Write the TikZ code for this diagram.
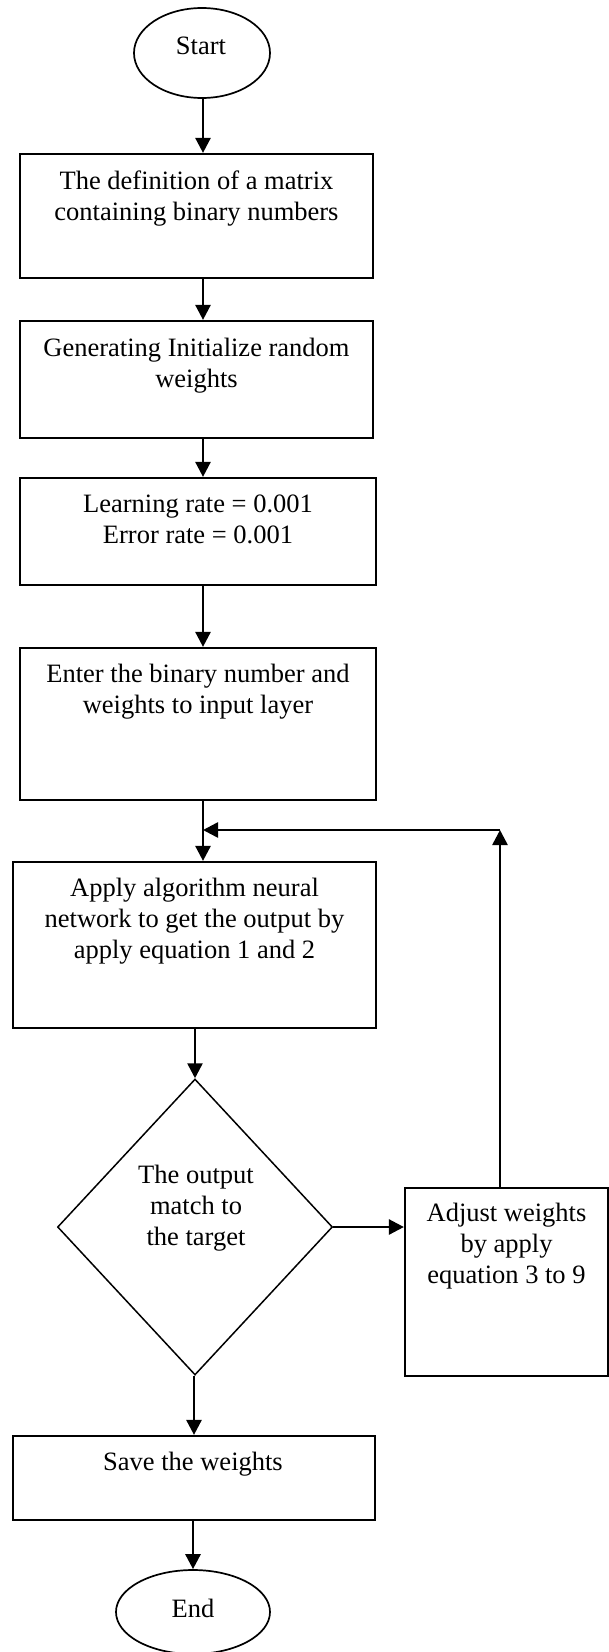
\documentclass[tikz,border=0pt]{standalone}
\usepackage{fontspec}
\setmainfont{Liberation Serif}
\usetikzlibrary{arrows.meta,shapes.geometric}

\tikzset{
	box/.style={draw, line width=2.2pt, inner sep=0pt},
	oval/.style={draw, ellipse, line width=1.7pt, inner sep=0pt},
	txt/.style={align=center, anchor=base, inner sep=0pt},
	arr/.style={-{Triangle[length=15pt,width=15pt]}, line width=2.6pt}
}

\begin{document}
\begin{tikzpicture}[x=1pt, y=-1pt, font=\fontsize{26.5}{31}\selectfont]
	\useasboundingbox (0,0) rectangle (609,1652);
	% shapes
	\node[oval, minimum width=136pt, minimum height=90pt] (v0) at (202,  53) {};
	\node[box, minimum width=353pt, minimum height=124pt] (v1) at (196.5, 216) {};
	\node[box, minimum width=353pt, minimum height=117pt] (v2) at (196.5, 379.5) {};
	\node[box, minimum width=356pt, minimum height=107pt] (v3) at (198, 531.5) {};
	\node[box, minimum width=356pt, minimum height=152pt] (v4) at (198, 724) {};
	\node[box, minimum width=363pt, minimum height=166pt] (v5) at (194.5, 945) {};
	\node[draw, diamond, line width=1.5pt, inner sep=0pt,
	      minimum width=275pt, minimum height=296pt] (v6) at (195, 1227) {};
	\node[box, minimum width=203pt, minimum height=188pt] (v7) at (506.5, 1282) {};
	\node[box, minimum width=362pt, minimum height=84pt]  (v8) at (194, 1478) {};
	\node[oval, minimum width=154pt, minimum height=84pt] (v9) at (193, 1612) {};

	% texts (placed at the baseline of the last line)
	\node[txt] (l0) at (201, 54)     {Start};
	\node[txt] (l1) at (196.5, 220)  {The definition of a matrix\\containing binary numbers};
	\node[txt] (l2) at (196.5, 387)  {Generating Initialize random\\weights};
	\node[txt] (l3) at (198, 543)    {Learning rate = 0.001\\Error rate = 0.001};
	\node[txt] (l4) at (198, 713)    {Enter the binary number and\\weights to input layer};
	\node[txt] (l5) at (194.5, 958)  {Apply algorithm neural\\network to get the output by\\apply equation 1 and 2};
	\node[txt] (l6) at (196, 1245)   {The output\\match to\\the target};
	\node[txt] (l7) at (506.5, 1283) {Adjust weights\\by apply\\equation 3 to 9};
	\node[txt] (l8) at (193, 1470)   {Save the weights};
	\node[txt] (l9) at (193, 1617)   {End};

	\coordinate (col) at (203, 0);
	\coordinate (up) at (500, 830);

	\def\down {v0/v1, v1/v2, v2/v3, v3/v4, v4/v5} % list elements
	\foreach \u/\v in \down
	{	\draw[arr] (\u.south -| col) -- (\v.north -| col);
	}
	\def\lower {v5/v6, v6/v8, v8/v9} % list elements
	\foreach \u/\v in \lower
	{	\draw[arr] (\v.north |- \u.south) -- (\v.north);
	}
	% back loop
	\draw[arr] (v6.east) -- (v6.east -| v7.west);
	\draw[arr] (up |- v7.north) -- (up);
	\draw[arr] (up) -- (up -| col);
\end{tikzpicture}
\end{document}
